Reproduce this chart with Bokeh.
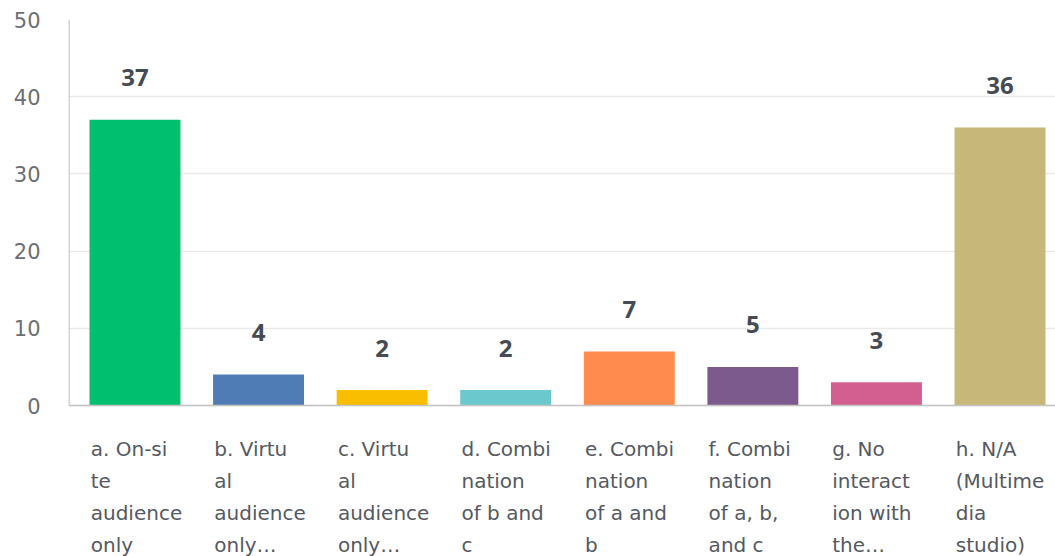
from bokeh.plotting import figure
from bokeh.models import ColumnDataSource, Range1d, FixedTicker, Span
from bokeh.core.properties import value
from bokeh.embed import file_html
from bokeh.resources import INLINE

categories = [
    "a. On-si\nte\naudience\nonly",
    "b. Virtu\nal\naudience\nonly…",
    "c. Virtu\nal\naudience\nonly…",
    "d. Combi\nnation\nof b and\nc",
    "e. Combi\nnation\nof a and\nb",
    "f. Combi\nnation\nof a, b,\nand c",
    "g. No\ninteract\nion with\nthe…",
    "h. N/A\n(Multime\ndia\nstudio)",
]
counts = [37, 4, 2, 2, 7, 5, 3, 36]
colors = ["#00bf6f", "#507cb6", "#f9be00", "#6bc8cd",
          "#ff8b4f", "#7d5a8d", "#d25f90", "#c7b879"]
y_ticks = [0, 10, 20, 30, 40, 50]

BAR_W = 0.736
PX_PER_UNIT = 386 / 50.0
X_START, X_END = -0.538, 7.449
Y_TOP = 50
Y_BOTTOM = Y_TOP - 537 / PX_PER_UNIT   # frame runs down to the page bottom

idx = list(range(len(counts)))
src = ColumnDataSource(dict(
    x=idx,
    top=counts,
    color=colors,
    label=[str(c) for c in counts],
))

p = figure(width=1055, height=556, output_backend="svg", toolbar_location=None,
           x_range=Range1d(X_START, X_END), y_range=Range1d(Y_BOTTOM, Y_TOP),
           min_border_left=68, min_border_right=0, min_border_top=19,
           min_border_bottom=0)
p.outline_line_color = None
p.background_fill_color = "white"
p.border_fill_color = "white"

# y axis (labels only; its line is drawn from 0 to 50 below)
p.yaxis.ticker = FixedTicker(ticks=y_ticks)
p.yaxis.axis_line_color = None
p.yaxis.major_tick_line_color = None
p.yaxis.minor_tick_line_color = None
p.yaxis.major_tick_out = 0
p.yaxis.major_label_standoff = 28
p.yaxis.major_label_text_font = "DejaVu Sans"
p.yaxis.major_label_text_font_size = "21px"
p.yaxis.major_label_text_color = "#6b6f75"
p.xaxis.visible = False

p.xgrid.grid_line_color = None
p.ygrid.grid_line_color = "#e9e9e9"
p.ygrid.grid_line_width = 1.5

p.segment(x0=[X_START], y0=[0], x1=[X_START], y1=[Y_TOP],
          line_color="#d4d4d4", line_width=3)
p.add_layout(Span(location=0, dimension="width", line_color="#c4c4c4",
                  line_width=1.5))

p.vbar(x="x", top="top", bottom=0, width=BAR_W, source=src,
       fill_color="color", line_color=None)

p.text(x="x", y="top", text="label", source=src, y_offset=-42,
       text_align="center", text_baseline="middle",
       text_font=value("Open Sans"), text_font_style="bold",
       text_font_size="24px", text_color="#454b52")

# category labels, one text glyph per wrapped line
split = [c.split("\n") for c in categories]
n_lines = max(len(s) for s in split)
for k in range(n_lines):
    lsrc = ColumnDataSource(dict(
        lx=[i - BAR_W / 2 + 0.01 for i in idx],
        ly=[-(43 + 32 * k) / PX_PER_UNIT] * len(idx),
        t=[s[k] if k < len(s) else "" for s in split],
    ))
    p.text(x="lx", y="ly", text="t", source=lsrc,
           text_align="left", text_baseline="middle",
           text_font=value("DejaVu Sans"), text_font_size="20px",
           text_color="#55595f")

open("out.html", "w").write(file_html(p, INLINE))
